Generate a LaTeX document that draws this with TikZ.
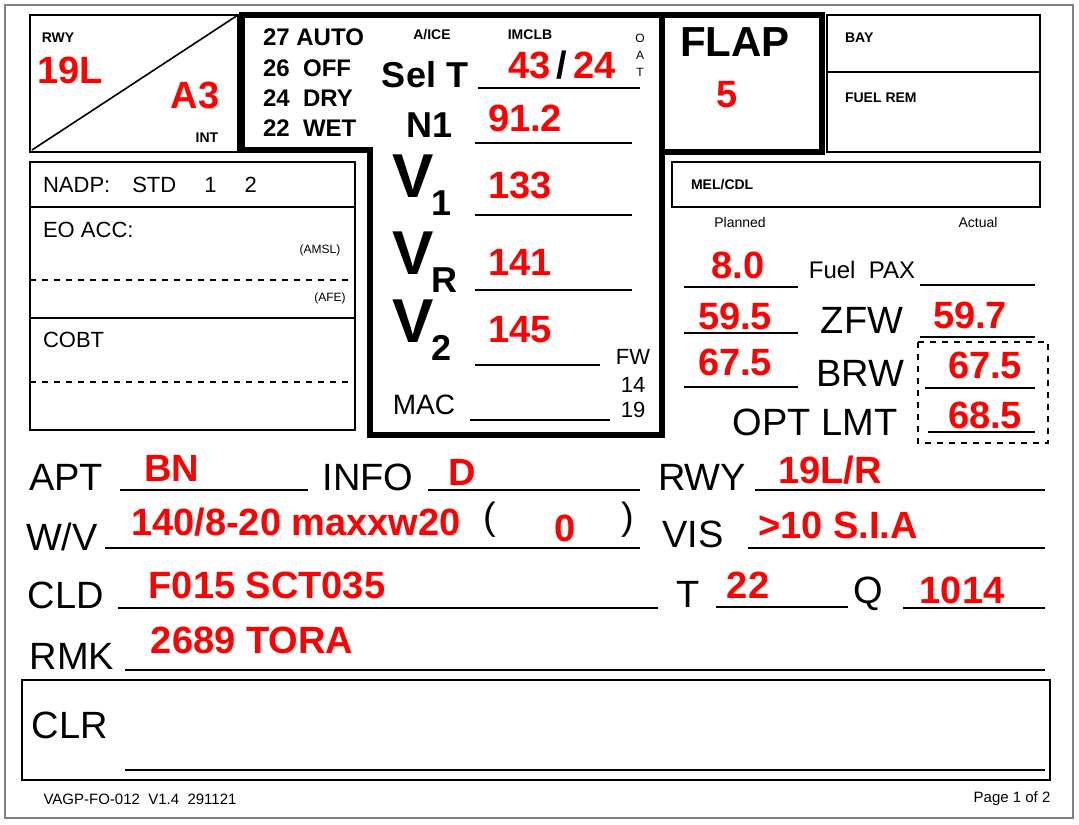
\documentclass[tikz,border=0pt]{standalone}
\usepackage{fontspec}
\setmainfont{Liberation Sans}
\begin{document}
\begin{tikzpicture}[x=0.5pt,y=-0.5pt,
  redtxt/.style={text=red,font=\fontsize{19}{21}\selectfont\bfseries},
  bigtxt/.style={font=\fontsize{19}{21}\selectfont},
  boldtxt/.style={font=\fontsize{12}{14}\selectfont\bfseries},
  midtxt/.style={font=\fontsize{11}{13}\selectfont},
  tinytxt/.style={font=\fontsize{7}{8}\selectfont\bfseries},
  fillline/.style={line width=0.9pt},
  box/.style={draw,line width=0.7pt}]
\useasboundingbox (0,0) rectangle (1079,824);
%outer frame
\draw[gray,line width=0.6pt] (5,5) rectangle (1073,818);
%runway corner box
\draw[box] (30,15) rectangle (238,152);
\draw[line width=0.8pt] (32,150) -- (238,15);
\node[tinytxt] (rwyhead) at (58,38) {RWY};
\node[redtxt] (rwyval) at (70,70) {19L};
\node[redtxt] (intval) at (195,95) {A3};
\node[tinytxt] (inthead) at (207,138) {INT};
%the thick T block
\draw[line width=2.8pt,line join=miter] (242,15) -- (822,15) -- (822,152) -- (662,152) -- (662,435) -- (370,435) -- (370,150) -- (242,150) -- cycle;
\draw[line width=2.8pt] (662,15) -- (662,152);
\foreach \y/\t in {37/27 AUTO,68/26 \ OFF,98/24 \ DRY,128/22 \ WET}
  \node[boldtxt,anchor=west] at (256,\y) {\t};
\node[tinytxt] (aice) at (432,35) {A/ICE};
\node[tinytxt] (imclb) at (530,35) {IMCLB};
\foreach \y/\t in {38/O,55/A,72/T}
  \node[font=\fontsize{6}{7}\selectfont] at (640,\y) {\t};
\node[font=\fontsize{18}{20}\selectfont\bfseries] (selt) at (425,75) {Sel T};
\draw[fillline] (478,88) -- (640,88);
\node[redtxt] (seltval) at (562,65) {43\textcolor{black}{\,/\,}24};
\node[font=\fontsize{18}{20}\selectfont\bfseries] (none) at (430,125) {N1};
\draw[fillline] (475,143) -- (632,143);
\node[redtxt] (nval) at (525,118) {91.2};
\foreach \y/\s/\v/\ly/\lx in {185/1/133/215/632,262/R/141/290/632,330/2/145/365/600}{
  \node[font=\fontsize{31}{33}\selectfont\bfseries,anchor=west,inner sep=0pt] at (392,\y) {V\kern-1pt\raisebox{-0.3em}{\fontsize{18}{20}\selectfont\s}};
  \draw[fillline] (475,\ly) -- (\lx,\ly);
  \node[redtxt] at (520,\y) {\v};
}
\node[midtxt] (fw) at (633,357) {FW};
\node[midtxt] (fw14) at (633,385) {14};
\node[midtxt] (fw19) at (633,410) {19};
\node[font=\fontsize{14}{16}\selectfont] (mac) at (424,405) {MAC};
\draw[fillline] (470,420) -- (610,420);
%flap
\node[font=\fontsize{21}{23}\selectfont\bfseries] (flap) at (735,42) {FLAP};
\node[redtxt] (flapval) at (727,95) {5};
\draw[box] (827,15) rectangle (1040,72);
\draw[box] (827,72) rectangle (1040,152);
\node[tinytxt,anchor=west] (bay) at (838,38) {BAY};
\node[tinytxt,anchor=west] (fuelrem) at (838,98) {FUEL REM};
%left boxes
\draw[box] (30,162) rectangle (355,207);
\node[midtxt,anchor=west] (nadp) at (36,185) {NADP:\quad STD\quad\ 1\quad\ 2};
\draw[box] (30,207) rectangle (355,318);
\node[midtxt,anchor=west] (eoacc) at (36,230) {EO ACC:};
\node[font=\fontsize{6}{7}\selectfont] (amsl) at (320,250) {(AMSL)};
\draw[dashed,line width=0.6pt] (30,280) -- (355,280);
\node[font=\fontsize{6}{7}\selectfont] (afe) at (330,298) {(AFE)};
\draw[box] (30,318) rectangle (355,430);
\node[midtxt,anchor=west] (cobt) at (36,340) {COBT};
\draw[dashed,line width=0.6pt] (30,382) -- (355,382);
%right fuel block
\draw[box] (672,162) rectangle (1040,207);
\node[tinytxt,anchor=west] (melcdl) at (684,185) {MEL/CDL};
\node[font=\fontsize{7}{8}\selectfont] (planned) at (740,222) {Planned};
\node[font=\fontsize{7}{8}\selectfont] (actual) at (978,222) {Actual};
\node[redtxt] (fuelp) at (738,265) {8.0};
\draw[fillline] (684,287) -- (798,287);
\node[font=\fontsize{12}{14}\selectfont] (fuelpax) at (862,270) {Fuel\ \ PAX};
\draw[fillline] (920,285) -- (1035,285);
\node[redtxt] (zfwp) at (735,316) {59.5};
\draw[fillline] (684,333) -- (798,333);
\node[bigtxt] (zfw) at (862,320) {ZFW};
\draw[fillline] (920,337) -- (1035,337);
\node[redtxt] (zfwa) at (970,315) {59.7};
\node[redtxt] (brwp) at (735,362) {67.5};
\draw[fillline] (684,387) -- (798,387);
\node[bigtxt] (brw) at (860,373) {BRW};
\draw[fillline] (925,388) -- (1035,388);
\node[redtxt] (brwa) at (985,365) {67.5};
\node[bigtxt] (optlmt) at (815,422) {OPT LMT};
\draw[fillline] (928,432) -- (1035,432);
\node[redtxt] (optval) at (985,415) {68.5};
\draw[dashed,line width=0.6pt] (918,342) rectangle (1048,443);
%bottom lines
\node[bigtxt] (apt) at (66,477) {APT};
\draw[fillline] (120,490) -- (308,490);
\node[redtxt] (aptval) at (172,468) {BN};
\node[bigtxt] (info) at (368,477) {INFO};
\draw[fillline] (428,490) -- (640,490);
\node[redtxt] (infoval) at (462,472) {D};
\node[bigtxt] (rwy) at (702,477) {RWY};
\draw[fillline] (755,490) -- (1045,490);
\node[redtxt] (rwyb) at (830,470) {19L/R};
\node[bigtxt] (wv) at (62,537) {W/V};
\draw[fillline] (105,548) -- (640,548);
\node[redtxt] (wvval) at (296,522) {140/8-20 maxxw20};
\node[bigtxt] (lpar) at (490,520) {(};
\node[bigtxt] (rpar) at (628,520) {)};
\node[redtxt] (gust) at (565,528) {0};
\node[bigtxt] (vis) at (693,534) {VIS};
\draw[fillline] (748,548) -- (1045,548);
\node[redtxt] (visval) at (838,525) {>10 S.I.A};
\node[bigtxt] (cld) at (66,595) {CLD};
\draw[fillline] (118,608) -- (658,608);
\node[redtxt] (cldval) at (267,585) {F015 SCT035};
\node[bigtxt] (temp) at (688,594) {T};
\draw[fillline] (716,607) -- (848,607);
\node[redtxt] (tempval) at (748,585) {22};
\node[bigtxt] (qnh) at (868,594) {Q};
\draw[fillline] (903,608) -- (1045,608);
\node[redtxt] (qnhval) at (962,590) {1014};
\node[bigtxt] (rmk) at (72,656) {RMK};
\draw[fillline] (125,670) -- (1045,670);
\node[redtxt] (rmkval) at (252,640) {2689 TORA};
\draw[box] (22,680) rectangle (1050,780);
\node[bigtxt] (clr) at (70,725) {CLR};
\draw[fillline] (125,770) -- (1045,770);
\node[font=\fontsize{7.5}{9}\selectfont] (formid) at (140,799) {VAGP-FO-012\ \ V1.4\ \ 291121};
\node[font=\fontsize{7.5}{9}\selectfont] (page) at (1012,799) {Page 1 of 2};
\end{tikzpicture}
\end{document}
